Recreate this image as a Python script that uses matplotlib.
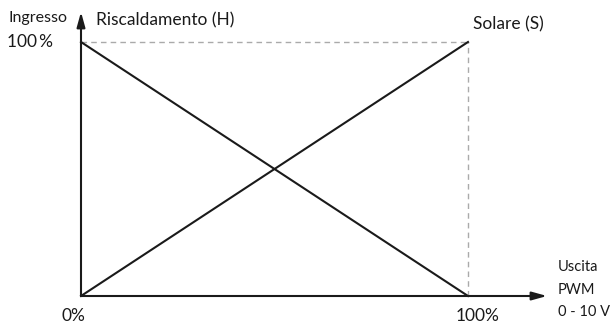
"""Mixing valve characteristic: Ingresso vs Uscita PWM 0-10V."""
import matplotlib.pyplot as plt

# data (percent)
uscita = [0, 100]
riscaldamento = [100, 0]
solare = [0, 100]
x_ticks = [0, 100]
x_tick_labels = ["0%", "100%"]

W, H = 611, 325
# pixel placement of data origin / 100% point
px0, px100 = 81, 468
py0, py100 = 29, 283
sx = (px100 - px0) / 100.0
sy = (py100 - py0) / 100.0

plt.rcParams["font.family"] = ["Lato", "DejaVu Sans"]

fig = plt.figure(figsize=(W / 100, H / 100), dpi=100)
ax = fig.add_axes([0, 0, 1, 1])
ax.set_xlim(-px0 / sx, (W - px0) / sx)
ax.set_ylim(-py0 / sy, (H - py0) / sy)
ax.axis("off")

dark = "#1a1a1a"

# guide lines at 100%
ax.plot([0, 100], [100, 100], color="#aaaaaa", lw=1, ls=(0, (4, 3)))
ax.plot([100, 100], [0, 100], color="#aaaaaa", lw=1, ls=(0, (4, 3)))

# characteristics
ax.plot(uscita, riscaldamento, color=dark, lw=1.5)
ax.plot(uscita, solare, color=dark, lw=1.5)

# axes with arrows
x_end = (547 - px0) / sx
y_end = (313 - py0) / sy
ax.annotate("", xy=(x_end, 0), xytext=(0, 0),
            arrowprops=dict(arrowstyle="-|>,head_length=0.9,head_width=0.25",
                            color=dark, lw=1.5, shrinkA=0, shrinkB=0))
ax.annotate("", xy=(0, y_end), xytext=(0, 0),
            arrowprops=dict(arrowstyle="-|>,head_length=0.9,head_width=0.25",
                            color=dark, lw=1.5, shrinkA=0, shrinkB=0))


def px(x, y):
    return ((x - px0) / sx, (H - y - py0) / sy)


# tick labels
for xv, lab in zip(x_ticks, x_tick_labels):
    xp = px0 + xv * sx - (8 if xv == 0 else -10)
    ax.text(*px(xp, 316), lab, ha="center", va="center", fontsize=12.5, color=dark)

ax.text(*px(9, 18), "Ingresso", ha="left", va="center", fontsize=11.5, color=dark)
ax.text(*px(7, 42), "100\u2009%", ha="left", va="center", fontsize=12.5, color=dark)
ax.text(*px(96, 20), "Riscaldamento (H)", ha="left", va="center", fontsize=12.5, color=dark)
ax.text(*px(473, 24), "Solare (S)", ha="left", va="center", fontsize=12.5, color=dark)
ax.text(*px(558, 267), "Uscita", ha="left", va="center", fontsize=10.5, color=dark)
ax.text(*px(558, 290), "PWM", ha="left", va="center", fontsize=10.5, color=dark)
ax.text(*px(558, 312), "0 - 10 V", ha="left", va="center", fontsize=10.5, color=dark)

fig.savefig("out.png", dpi=100)
